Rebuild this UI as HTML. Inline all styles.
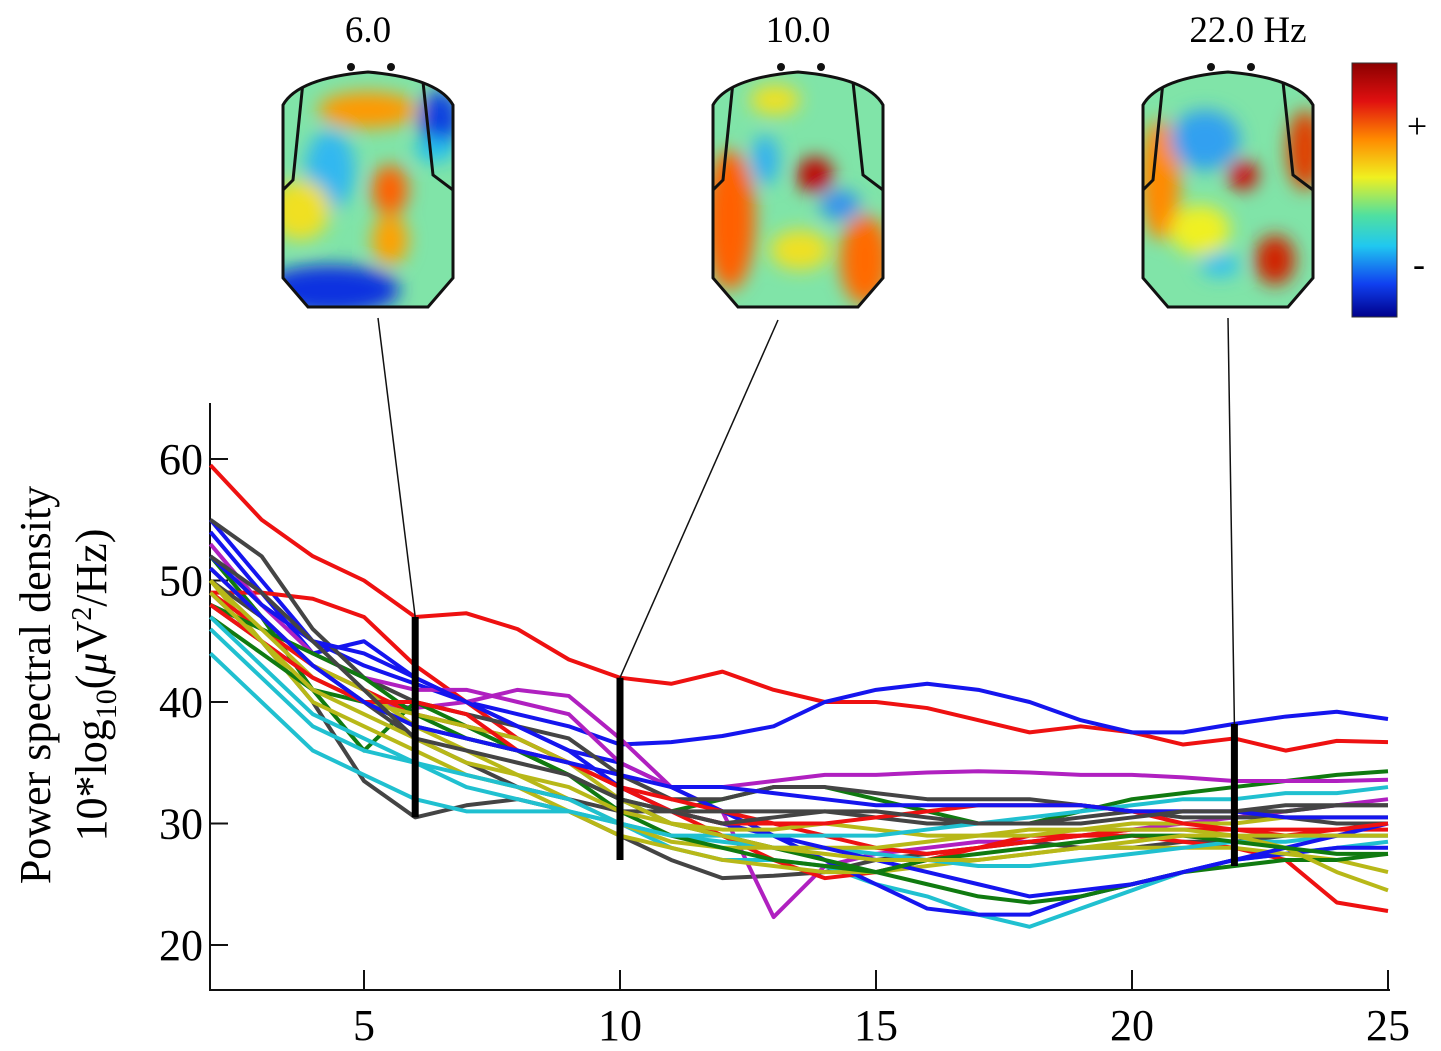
<!DOCTYPE html>
<html><head><meta charset="utf-8"><style>
body{margin:0;background:#fff;width:1441px;height:1051px;overflow:hidden}
svg{display:block;font-family:"Liberation Serif",serif}
</style></head><body>
<svg id="chart" width="1441" height="1051" viewBox="0 0 1441 1051">
<defs>
<linearGradient id="cbar" x1="0" y1="0" x2="0" y2="1">
<stop offset="0" stop-color="#8b0000"/><stop offset="0.15" stop-color="#e01010"/><stop offset="0.3" stop-color="#ff8a00"/><stop offset="0.45" stop-color="#f0f020"/><stop offset="0.6" stop-color="#50e0a0"/><stop offset="0.72" stop-color="#20c8f0"/><stop offset="0.87" stop-color="#1040f0"/><stop offset="1" stop-color="#00008b"/>
</linearGradient>
<filter id="bl" x="-50%" y="-50%" width="200%" height="200%"><feGaussianBlur stdDeviation="9"/></filter>
</defs>
<g id="topos"></g>
<g>
<rect x="1352" y="63" width="45" height="254" fill="url(#cbar)" stroke="#333" stroke-width="1"/>
<text x="1417" y="138" font-size="36" text-anchor="middle">+</text>
<text x="1419" y="276" font-size="36" text-anchor="middle">-</text>
</g>
<g id="axes"></g>
<g id="lines"></g>
<g id="conn"></g>
<g>
<text transform="translate(50,685) rotate(-90)" font-size="44" text-anchor="middle">Power spectral density</text>
<text transform="translate(106,685) rotate(-90)" font-size="44" text-anchor="middle">10*log<tspan font-size="30" dy="10">10</tspan><tspan dy="-10">(</tspan><tspan font-style="italic">μ</tspan>V<tspan font-size="28" dy="-15">2</tspan><tspan dy="15">/Hz)</tspan></text>
</g>
</svg>
<script>
const freqs=[2,3,4,5,6,7,8,9,10,11,12,13,14,15,16,17,18,19,20,21,22,23,24,25];
const xTicks=[5,10,15,20,25];
const yTicks=[20,30,40,50,60];
const seriesColors=["#ee1111","#1515ee","#444444","#b020c0","#20c0d0","#107a10","#ee1111","#1515ee","#444444","#b8b818","#107a10","#20c0d0","#b020c0","#ee1111","#b8b818","#1515ee","#444444","#107a10","#b8b818","#20c0d0","#ee1111","#1515ee","#b8b818","#444444"];
const s0=[59.5,55,52,50,47,47.3,46,43.5,42,41.5,42.5,41,40,40,39.5,38.5,37.5,38,37.5,36.5,37,36,36.8,36.7];
const s1=[55,50,45,43,41.5,40,39,38,36.5,36.7,37.2,38,40,41,41.5,41,40,38.5,37.5,37.5,38.2,38.8,39.2,38.6];
const s2=[48,45,40,33.5,30.5,31.5,32,31,29,27,25.5,25.7,26,27,27.5,28,28.5,28,28,28.5,28.5,29,29,29];
const s3=[49,45,42,40,39.5,40,41,40.5,37,33,31,22.3,26.5,27.5,28,28.5,28.5,29,29.5,30,30.5,31,31.5,32];
const s4=[44,40,36,34,32,31,31,31,30,28,27,27,26.5,25,24,22.5,21.5,23,24.5,26,27,27.5,28,28.5];
const s5=[52,47,41,36,40,38,36,34,32,31,32,33,33,32,31,30,30,31,32,32.5,33,33.5,34,34.3];
const s6=[49,49,48.5,47,43,40,37,35,33,31,29,27,25.5,26,27,28,29,29,29,28.5,28,27,23.5,22.8];
const s7=[54,49,44,45,42,40,38,36,35,33,31,29,27,25,23,22.5,22.5,24,25,26,27,27.5,28,28];
const s8=[55,52,46,42,40,39,38,37,34,32,32,33,33,32.5,32,32,32,31.5,31,30.5,30.5,30.5,30,30];
const s9=[50,45,40,38,36,34,33,31,29,28,27,26.5,26,26,26.5,27,27.5,28,28,28,28,27.5,27,26];
const s10=[47,44,41,40,38,37,36,34,32,30,29,28,27,26,25,24,23.5,24,25,26,26.5,27,27,27.5];
const s11=[46,42,38,36,35,33,32,31,30,29,28.5,28,28,27.5,27,26.5,26.5,27,27.5,28,28.5,28.5,29,29];
const s12=[53,48,44,42,41,41,40,39,35,33,33,33.5,34,34,34.2,34.3,34.2,34,34,33.8,33.5,33.5,33.5,33.6];
const s13=[49,46,43,41,39,38,37,35,33,32,31,30,29,28,27.5,28,28.5,29,29.5,29.5,29.5,29.5,29.5,29.5];
const s14=[51,47,43,41,38,36,34,32,30,28.5,28,28,28,28,28.5,29,29,29.5,29.5,29.5,29,28,26,24.5];
const s15=[52,48,45,44,42,40,38,36,33,31,30,29,28,27,26,25,24,24.5,25,26,27,28,29,30];
const s16=[50,47,43,40,37,35,33,32,31,31,31,31,31,30.5,30,30,30,30.5,31,31,31,31,31.5,31.5];
const s17=[48,46,44,42,39,37,36,34,31,29,28,27,26.5,26,27,27.5,28,28.5,29,29,28.5,28,27.5,27.5];
const s18=[50,46,42,40,39,38,37,35,32,30,29.5,29.5,30,29.5,29,29,29.5,29.5,30,30,30,30.5,30.5,30.5];
const s19=[47,43,39,37,35,34,33,32,30,29,29,29,29,29,29.5,30,30.5,31,31.5,32,32,32.5,32.5,33];
const s20=[48,45,42,40,40,39,36,35,33,31,30,30,30,30.5,31,31.5,31.5,31.5,31,30,29.5,29,29.5,30];
const s21=[51,47,43,40,38,37,36,35,34,33,33,32.5,32,31.5,31.5,31.5,31.5,31.5,31,31,31,30.5,30.5,30.5];
const s22=[49,45,41,39,37,35,34,33,31,30,29,28,27.5,27,27,27,27.5,28,28.5,29,29,29,29,29];
const s23=[52,49,45,41,37,36,35,34,32,31,30,30.5,31,31,30.5,30,30,30,30.5,31,31,31.5,31.5,31.5];
const series=[s0,s1,s2,s3,s4,s5,s6,s7,s8,s9,s10,s11,s12,s13,s14,s15,s16,s17,s18,s19,s20,s21,s22,s23];
const markFreqs=[6,10,22];
const markTop=[47,42,38.2];
const markBot=[30.5,27,26.5];
const topoLabels=["6.0","10.0","22.0 Hz"];

const NS="http://www.w3.org/2000/svg";
const X=v=>210.4+(v-2)*51.2;
const Y=v=>945-(v-20)*12.15;
function mk(tag,attrs,parent){const e=document.createElementNS(NS,tag);for(const k in attrs)e.setAttribute(k,attrs[k]);parent.appendChild(e);return e;}
const axes=document.getElementById('axes');
let e=mk('path',{d:'M210,403 V990 H1390',fill:'none',stroke:'#111','stroke-width':2},axes);

xTicks.forEach(t=>{
 const l=mk('line',{x1:X(t),x2:X(t),y1:990,y2:970,stroke:'#111','stroke-width':2},axes);
 
 const tx=mk('text',{x:X(t),y:1040,'font-size':44,'text-anchor':'middle'},axes);tx.textContent=t;
 
});
yTicks.forEach(t=>{
 const l=mk('line',{x1:210,x2:228,y1:Y(t),y2:Y(t),stroke:'#111','stroke-width':2},axes);
 
 const tx=mk('text',{x:203,y:Y(t)+15,'font-size':44,'text-anchor':'end'},axes);tx.textContent=t;
 
});
const lines=document.getElementById('lines');
series.forEach((s,i)=>{
 const p=mk('polyline',{points:s.map((v,j)=>X(freqs[j])+','+Y(v)).join(' '),fill:'none',stroke:seriesColors[i],'stroke-width':4,'stroke-linejoin':'round'},lines);
 
});
const topos=document.getElementById('topos');
const topoCx=[368,798,1228];
const blobs=[
 [[368,110,50,18,'#ff9900'],[330,170,25,40,'#30b8f0'],[390,190,18,25,'#ff6000'],[390,240,18,25,'#ffa000'],[300,210,30,30,'#f0e020'],[330,290,70,25,'#1030e0'],[440,120,20,30,'#1040e0'],[435,150,20,12,'#20c0f0']],
 [[730,220,25,70,'#ff6000'],[865,260,25,45,'#ff6a00'],[815,175,18,18,'#c00000'],[775,100,25,15,'#f0e020'],[765,160,14,25,'#30b0f0'],[840,205,20,15,'#3090f0'],[800,250,30,20,'#f0e020']],
 [[1160,180,20,60,'#ff8a00'],[1305,150,18,40,'#e04000'],[1243,175,15,15,'#d00000'],[1275,260,20,25,'#d02000'],[1205,140,35,30,'#30a0f0'],[1220,265,20,12,'#30c0f0'],[1200,230,30,25,'#f0f020']]
];
topoCx.forEach((cx,i)=>{
 const g=mk('g',{},topos);
 
 const d=`M${cx-85},105 Q${cx-70},78 ${cx},72 Q${cx+70},78 ${cx+85},105 L${cx+85},278 L${cx+60},307 L${cx-60},307 L${cx-85},278 Z`;
 const cp=mk('clipPath',{id:'cp'+i},g);mk('path',{d},cp);
 const inner=mk('g',{'clip-path':`url(#cp${i})`},g);
 mk('rect',{x:cx-90,y:65,width:180,height:250,fill:'#80e4a8'},inner);
 const bg=mk('g',{filter:'url(#bl)'},inner);
 blobs[i].forEach(b=>mk('ellipse',{cx:b[0],cy:b[1],rx:b[2],ry:b[3],fill:b[4]},bg));
 mk('path',{d:`M${cx-65},82 L${cx-85+10},180 L${cx-85},190 M${cx+55},82 L${cx+65},175 L${cx+85},190`,fill:'none',stroke:'#111','stroke-width':3},inner);
 mk('path',{d,fill:'none',stroke:'#111','stroke-width':3},g);
 mk('circle',{cx:cx-17,cy:67,r:4,fill:'#111'},g);mk('circle',{cx:cx+23,cy:67,r:4,fill:'#111'},g);
 const t=mk('text',{x:cx+(i==2?20:0),y:42,'font-size':37,'text-anchor':'middle'},topos);t.textContent=topoLabels[i];
 
});
const conn=document.getElementById('conn');
const startPts=[[378,318],[778,320],[1228,318]];
markFreqs.forEach((f,i)=>{
 const l=mk('line',{x1:startPts[i][0],y1:startPts[i][1],x2:X(f),y2:Y(markTop[i]),stroke:'#111','stroke-width':1.5},conn);
 
 const b=mk('line',{x1:X(f),x2:X(f),y1:Y(markTop[i]),y2:Y(markBot[i]),stroke:'#000','stroke-width':7},conn);
 
});
</script>
</body></html>
